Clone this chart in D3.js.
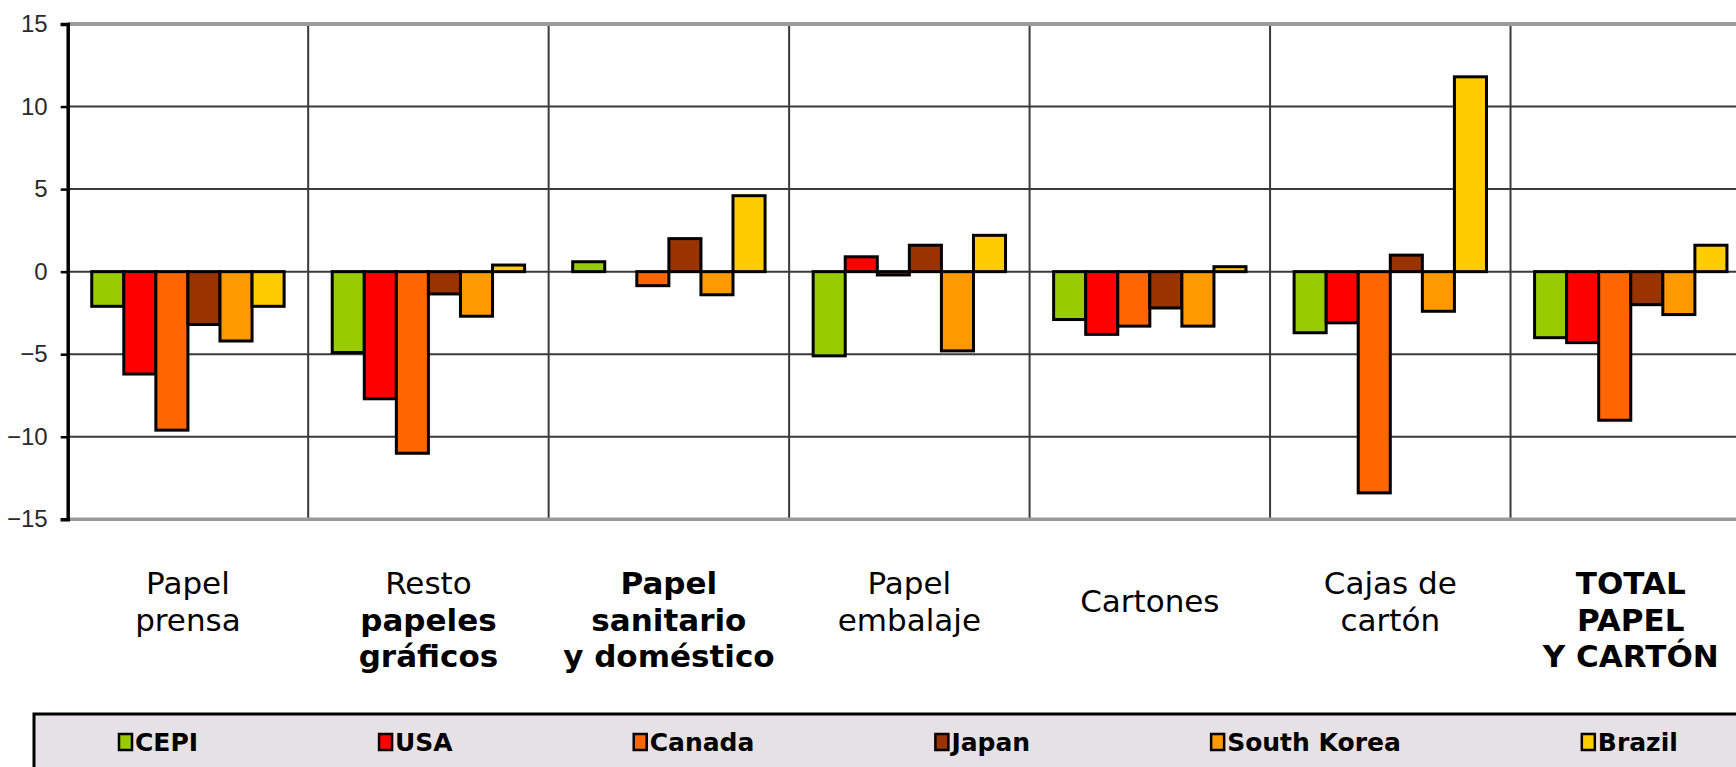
<!DOCTYPE html>
<html>
<head>
<meta charset="utf-8">
<script src="https://cdn.jsdelivr.net/npm/d3@7"></script>
<style>
  html, body { margin: 0; padding: 0; background: #fefefe; }
  svg { display: block; }
</style>
</head>
<body>
<svg id="chart" width="1736" height="767"></svg>
<script>
// ---------------- DATA ----------------
const categoryLines = [
  ["Papel", "prensa"],
  ["Resto", "papeles", "gráficos"],
  ["Papel", "sanitario", "y doméstico"],
  ["Papel", "embalaje"],
  ["Cartones"],
  ["Cajas de", "cartón"],
  ["TOTAL", "PAPEL", "Y CARTÓN"]
];
const categoryBold = [
  [false, false],
  [false, true, true],
  [true, true, true],
  [false, false],
  [false],
  [false, false],
  [true, true, true]
];
const seriesNames = ["CEPI", "USA", "Canada", "Japan", "South Korea", "Brazil"];
const seriesColors = ["#99CC00", "#FF0000", "#FF6600", "#993300", "#FF9900", "#FFCC00"];

const cepi       = [-2.1, -4.9,  0.6, -5.1, -2.9, -3.7, -4.0];
const usa        = [-6.2, -7.7,  0.0,  0.9, -3.8, -3.1, -4.3];
const canada     = [-9.6, -11.0, -0.85, -0.2, -3.3, -13.4, -9.0];
const japan      = [-3.2, -1.35, 2.0,  1.6, -2.2,  1.0, -2.0];
const southKorea = [-4.2, -2.7, -1.4, -4.8, -3.3, -2.4, -2.6];
const brazil     = [-2.1,  0.4,  4.6,  2.2,  0.3, 11.8,  1.6];

const yTicks = [15, 10, 5, 0, -5, -10, -15];

// ---------------- LAYOUT ----------------
const seriesValues = [cepi, usa, canada, japan, southKorea, brazil];
const svg = d3.select("#chart");
const W = 1736, H = 767;
const plot = { left: 67.7, right: 1751, top: 24, bottom: 519.3 };

const catIdx = categoryLines.map((d, i) => i);
const x0 = d3.scaleBand().domain(catIdx).range([plot.left, plot.right]).paddingInner(0).paddingOuter(0);
const gapRatio = 1.5; // Excel gap width 150%
const barW = x0.bandwidth() / (seriesNames.length + gapRatio);
const groupW = barW * seriesNames.length;
const x1 = d3.scaleBand().domain(d3.range(seriesNames.length)).range([0, groupW]).padding(0);
const y = d3.scaleLinear().domain([-15, 15]).range([plot.bottom, plot.top]);

svg.append("rect").attr("width", W).attr("height", H).attr("fill", "#fefefe");

// inner gridlines
svg.append("g").selectAll("line")
  .data(yTicks.filter(t => t !== 15 && t !== -15))
  .join("line")
  .attr("x1", plot.left).attr("x2", plot.right)
  .attr("y1", d => y(d)).attr("y2", d => y(d))
  .attr("stroke", "#3a3a3a").attr("stroke-width", 2);

// vertical category dividers
svg.append("g").selectAll("line")
  .data(catIdx.slice(1))
  .join("line")
  .attr("x1", d => x0(d)).attr("x2", d => x0(d))
  .attr("y1", plot.top).attr("y2", plot.bottom)
  .attr("stroke", "#3a3a3a").attr("stroke-width", 2);

// top / bottom border
svg.append("line").attr("x1", plot.left).attr("x2", plot.right)
  .attr("y1", y(15)).attr("y2", y(15)).attr("stroke", "#9a9a9a").attr("stroke-width", 4);
svg.append("line").attr("x1", plot.left).attr("x2", plot.right)
  .attr("y1", y(-15)).attr("y2", y(-15)).attr("stroke", "#9a9a9a").attr("stroke-width", 3.5);

// bars
const barData = [];
seriesValues.forEach((vals, s) => vals.forEach((v, c) => barData.push({ s, c, v })));
svg.append("g").selectAll("rect")
  .data(barData)
  .join("rect")
  .attr("x", d => x0(d.c) + (x0.bandwidth() - groupW) / 2 + x1(d.s))
  .attr("width", x1.bandwidth())
  .attr("y", d => y(Math.max(0, d.v)))
  .attr("height", d => Math.abs(y(d.v) - y(0)))
  .attr("fill", d => seriesColors[d.s])
  .attr("stroke", "#000").attr("stroke-width", 3)
  .attr("stroke-linejoin", "miter");

// y axis
const yAxis = d3.axisLeft(y).tickValues(yTicks).tickSize(7).tickPadding(13).tickFormat(d3.format("d"));
const ag = svg.append("g").attr("transform", `translate(${plot.left},0)`).call(yAxis);
ag.select(".domain").attr("stroke", "#000").attr("stroke-width", 3.5);
ag.selectAll(".tick line").attr("stroke", "#000").attr("stroke-width", 2.5);
ag.selectAll(".tick text")
  .attr("font-family", "Liberation Sans, Arial, sans-serif")
  .attr("font-size", 24).attr("fill", "#2a2a2a");

// category labels
const lineH = 36.5;
const firstLineY = 583;
const labelFont = 31;
categoryLines.forEach((lines, c) => {
  const cx = x0(c) + x0.bandwidth() / 2;
  const offset = lines.length === 1 ? lineH / 2 : 0;
  lines.forEach((t, k) => {
    svg.append("text")
      .attr("x", cx)
      .attr("y", firstLineY + offset + k * lineH)
      .attr("dy", "0.36em")
      .attr("text-anchor", "middle")
      .attr("font-family", "DejaVu Sans, Verdana, sans-serif")
      .attr("font-size", labelFont)
      .attr("font-weight", categoryBold[c][k] ? "bold" : "normal")
      .attr("fill", "#000")
      .text(t);
  });
});

// legend
const legendTop = 714;
svg.append("rect").attr("x", 34).attr("y", legendTop).attr("width", 1800).attr("height", 120)
  .attr("fill", "#e6e1e4").attr("stroke", "#000").attr("stroke-width", 3);
const legendY = 742;
let lx = 119;
const legendGap = 181;
seriesNames.forEach((name, i) => {
  svg.append("rect").attr("x", lx).attr("y", legendY - 8).attr("width", 13).attr("height", 16)
    .attr("fill", seriesColors[i]).attr("stroke", "#000").attr("stroke-width", 2.5);
  const t = svg.append("text").attr("x", lx + 16).attr("y", legendY).attr("dy", "0.36em")
    .attr("font-family", "DejaVu Sans, Verdana, sans-serif")
    .attr("font-weight", "bold").attr("font-size", 25).attr("fill", "#000")
    .text(name);
  lx = lx + 16 + t.node().getComputedTextLength() + legendGap;
});
</script>
</body>
</html>
